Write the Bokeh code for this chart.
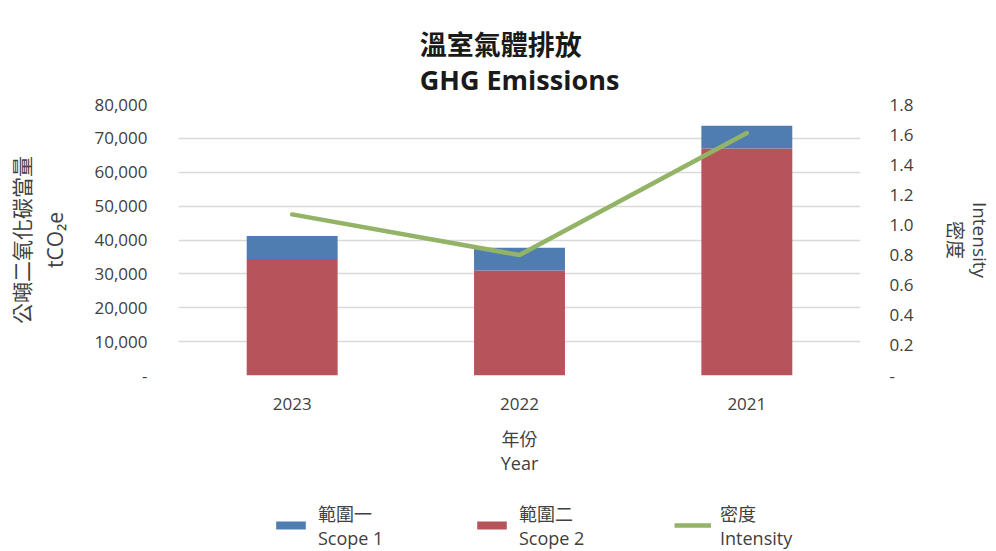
from bokeh.plotting import figure
from bokeh.layouts import column
from bokeh.models import (FactorRange, Range1d, LinearAxis, FixedTicker, NumeralTickFormatter,
                          Legend, LegendItem, ColumnDataSource)
from bokeh.embed import file_html
from bokeh.resources import INLINE

years = ["2023", "2022", "2021"]
scope1 = [6800, 6700, 6700]
scope2 = [34400, 31000, 67000]
intensity = [1.07, 0.80, 1.61]

left_ticks = [0, 10000, 20000, 30000, 40000, 50000, 60000, 70000, 80000]
right_ticks = [0, 0.2, 0.4, 0.6, 0.8, 1.0, 1.2, 1.4, 1.6, 1.8]

BLUE = "#4F7CB1"
RED = "#B7535A"
GREEN = "#93B366"
TXT = "#404040"
FONT = "'Open Sans', 'Noto Sans CJK TC'"

src = ColumnDataSource(dict(year=years, scope1=scope1, scope2=scope2, intensity=intensity))

p = figure(width=996, height=490, x_range=FactorRange(*years), y_range=Range1d(0, 80000),
           output_backend="svg", toolbar_location=None,
           min_border_left=178, min_border_right=130, min_border_top=104, min_border_bottom=115)
p.outline_line_color = None

p.title.text = "溫室氣體排放\nGHG Emissions"
p.title.align = "center"
p.title.vertical_align = "top"
p.title.text_font = FONT
p.title.text_font_size = "27px"
p.title.text_font_style = "bold"
p.title.text_color = "#1a1a1a"
p.title.text_line_height = 0.95
p.title.standoff = 10

bars = p.vbar_stack(["scope2", "scope1"], x="year", width=0.40, color=[RED, BLUE],
                    line_color=None, source=src)

p.extra_y_ranges = {"int": Range1d(0, 1.8)}
ln = p.line(x="year", y="intensity", y_range_name="int", line_color=GREEN, line_width=4.5,
            line_cap="round", source=src)

# left axis
ya = p.yaxis[0]
ya.ticker = FixedTicker(ticks=left_ticks)
ya.formatter = NumeralTickFormatter(format="0,0")
ya.major_label_overrides = {0: "-"}
ya.axis_label = "公噸二氧化碳當量\ntCO₂e"

# right axis
ra = LinearAxis(y_range_name="int", ticker=FixedTicker(ticks=right_ticks),
                formatter=NumeralTickFormatter(format="0.0"))
ra.major_label_overrides = {0: "-"}
ra.axis_label = "Intensity\n密度"
p.add_layout(ra, "right")

xa = p.xaxis[0]
xa.axis_label = "年份\nYear"

for ax in [ya, ra, xa]:
    ax.axis_line_color = None
    ax.major_tick_line_color = None
    ax.minor_tick_line_color = None
    ax.major_tick_out = 0
    ax.major_tick_in = 0
    ax.major_label_text_font = FONT
    ax.major_label_text_font_size = "17px"
    ax.major_label_text_color = TXT
    ax.axis_label_text_font = FONT
    ax.axis_label_text_font_size = "18px"
    ax.axis_label_text_font_style = "normal"
    ax.axis_label_text_color = TXT

ya.axis_label_text_font_size = "21px"
ra.axis_label_text_font_size = "19px"
ra.axis_label_text_line_height = 0.95
xa.axis_label_text_line_height = 1.0

ya.major_label_standoff = 31
ra.major_label_standoff = 29
xa.major_label_standoff = 22
ya.axis_label_standoff = 22
ra.axis_label_standoff = 26
xa.axis_label_standoff = 14

p.xgrid.grid_line_color = None
p.ygrid.ticker = FixedTicker(ticks=left_ticks)
p.ygrid.grid_line_color = "#D9D9D9"
p.ygrid.grid_line_width = 1.5

# legend strip below the chart; its renderers are hidden, only their legend keys show
lg = figure(width=996, height=60, x_range=FactorRange(*years), y_range=Range1d(-2, -1),
            output_backend="svg", toolbar_location=None, min_border=0,
            x_axis_type=None, y_axis_type=None)
lg.outline_line_color = None
lg.grid.grid_line_color = None
g1 = lg.vbar(x="year", top="scope1", width=0.4, color=BLUE, line_color=None, source=src)
g2 = lg.vbar(x="year", top="scope2", width=0.4, color=RED, line_color=None, source=src)
g3 = lg.line(x="year", y="intensity", line_color=GREEN, line_width=4.5, source=src)
for g in (g1, g2, g3):
    g.visible = False

legend = Legend(items=[
    LegendItem(label="範圍一\nScope 1", renderers=[g1]),
    LegendItem(label="範圍二\nScope 2", renderers=[g2]),
    LegendItem(label="密度\nIntensity", renderers=[g3]),
], orientation="horizontal", location=(94, 0))
legend.glyph_width = 37
legend.glyph_height = 10
legend.label_standoff = 9
legend.label_width = 140
legend.spacing = 15
legend.padding = 0
legend.margin = 0
legend.inactive_fill_alpha = 0
legend.label_text_font = FONT
legend.label_text_font_size = "18px"
legend.label_text_color = TXT
legend.border_line_color = None
legend.background_fill_alpha = 0
lg.add_layout(legend, "center")

layout = column(p, lg, spacing=0)
open("out.html", "w").write(file_html(layout, INLINE))
